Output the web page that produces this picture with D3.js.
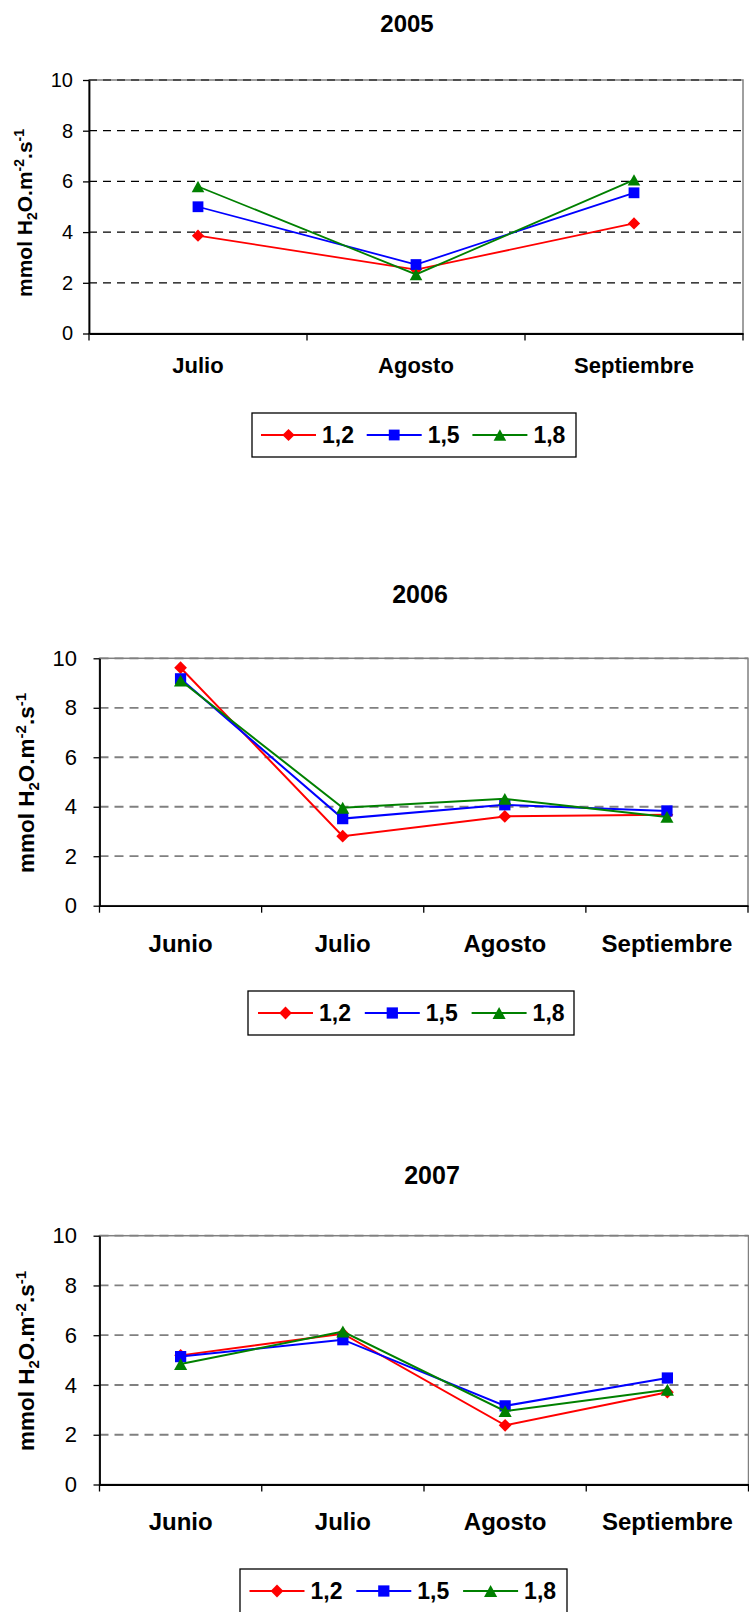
<!DOCTYPE html>
<html><head><meta charset="utf-8">
<script src="https://cdn.jsdelivr.net/npm/d3@7"></script>
<style>
body{margin:0;background:#fff}
svg{display:block}
text{font-family:"Liberation Sans",Arial,Helvetica,sans-serif;fill:#000}
</style>
</head><body>
<svg id="c" width="749" height="1612"></svg>
<script>
// ---- data ----
const seriesNames = ["1,2", "1,5", "1,8"];
const seriesColors = ["#FF0000", "#0000FF", "#008000"];
const seriesShapes = ["diamond", "square", "triangle"];
const yTickValues = [0, 2, 4, 6, 8, 10];
const titles = ["2005", "2006", "2007"];

const months2005 = ["Julio", "Agosto", "Septiembre"];
const months2006 = ["Junio", "Julio", "Agosto", "Septiembre"];
const months2007 = ["Junio", "Julio", "Agosto", "Septiembre"];

const v2005_12 = [3.86, 2.52, 4.34];
const v2005_15 = [5.00, 2.72, 5.55];
const v2005_18 = [5.80, 2.33, 6.06];

const v2006_12 = [9.62, 2.81, 3.61, 3.68];
const v2006_15 = [9.17, 3.52, 4.08, 3.83];
const v2006_18 = [9.10, 3.96, 4.32, 3.59];

const v2007_12 = [5.19, 6.06, 2.38, 3.71];
const v2007_15 = [5.14, 5.82, 3.16, 4.28];
const v2007_18 = [4.84, 6.15, 2.95, 3.81];

// ---- layout ----
const charts = [
  { title: titles[0], months: months2005, values: [v2005_12, v2005_15, v2005_18],
    L: 89, R: 743, T: 80, B: 333.5, titleX: 407, titleY: 32, titleSize: 24,
    catY: 373, catSize: 22, tickSize: 20, tickRight: 73,
    yTitleX: 32, yTitleY: 213, yTitleSize: 21,
    gridColor: "#000", gridW: 1.2, dash: "8,6", lineW: 1.8, mk: 12,
    leg: { x: 252, y: 413, w: 324, h: 44, start: 261, step: 105.7 } },
  { title: titles[1], months: months2006, values: [v2006_12, v2006_15, v2006_18],
    L: 99.5, R: 748, T: 658.3, B: 905.7, titleX: 420, titleY: 603, titleSize: 25,
    catY: 952, catSize: 24, tickSize: 22, tickRight: 77,
    yTitleX: 34, yTitleY: 783, yTitleSize: 22.5,
    gridColor: "#808080", gridW: 1.8, dash: "9,6", lineW: 2, mk: 12.5,
    leg: { x: 248, y: 991, w: 326, h: 44, start: 258, step: 106.8 } },
  { title: titles[2], months: months2007, values: [v2007_12, v2007_15, v2007_18],
    L: 99.5, R: 748.5, T: 1235.7, B: 1484.5, titleX: 432, titleY: 1184, titleSize: 25,
    catY: 1530, catSize: 24, tickSize: 22, tickRight: 77,
    yTitleX: 34, yTitleY: 1361, yTitleSize: 22.5,
    gridColor: "#808080", gridW: 1.8, dash: "9,6", lineW: 2, mk: 12.5,
    leg: { x: 240, y: 1569, w: 327, h: 44, start: 249.5, step: 106.8 } }
];

const svg = d3.select("#c");

function marker(g, shape, cx, cy, s, color) {
  if (shape === "diamond") {
    const side = s / Math.SQRT2 * 1.02;
    g.append("path")
      .attr("d", d3.symbol().type(d3.symbolSquare).size(side * side)())
      .attr("transform", `translate(${cx},${cy}) rotate(45)`)
      .attr("fill", color);
  } else if (shape === "square") {
    const side = s * 0.9;
    g.append("path")
      .attr("d", d3.symbol().type(d3.symbolSquare).size(side * side)())
      .attr("transform", `translate(${cx},${cy})`)
      .attr("fill", color);
  } else {
    const h = s * 0.95, w = s * 1.05;
    g.append("path")
      .attr("d", `M${cx},${cy - h / 2}L${cx + w / 2},${cy + h / 2}L${cx - w / 2},${cy + h / 2}Z`)
      .attr("fill", color);
  }
}

charts.forEach(c => {
  const g = svg.append("g");
  const x = d3.scaleBand().domain(c.months).range([c.L, c.R]).paddingInner(0).paddingOuter(0);
  const y = d3.scaleLinear().domain([0, 10]).range([c.B, c.T]);
  const bw = x.bandwidth();

  // title
  g.append("text").attr("x", c.titleX).attr("y", c.titleY)
    .attr("text-anchor", "middle").attr("font-weight", "bold")
    .attr("font-size", c.titleSize).text(c.title);

  // plot border
  g.append("rect").attr("x", c.L).attr("y", c.T)
    .attr("width", c.R - c.L).attr("height", c.B - c.T)
    .attr("fill", "none").attr("stroke", "#808080").attr("stroke-width", 1.5);

  // gridlines
  g.append("g").selectAll("line").data(yTickValues.filter(v => v > 0)).join("line")
    .attr("x1", c.L).attr("x2", c.R)
    .attr("y1", d => y(d)).attr("y2", d => y(d))
    .attr("stroke", c.gridColor).attr("stroke-width", c.gridW)
    .attr("stroke-dasharray", c.dash);

  // y axis
  const ya = g.append("g").attr("transform", `translate(${c.L},0)`)
    .call(d3.axisLeft(y).tickValues(yTickValues).tickSize(6).tickSizeOuter(0)
      .tickPadding(c.L - c.tickRight - 6));
  ya.select(".domain").attr("stroke", "#000").attr("stroke-width", 1.8);
  ya.selectAll(".tick line").attr("stroke", "#000").attr("stroke-width", 1.3);
  ya.selectAll(".tick text").attr("font-size", c.tickSize)
    .attr("font-family", "'Liberation Sans',Arial,sans-serif").attr("fill", "#000");

  // x axis
  const xa = g.append("g").attr("transform", `translate(0,${c.B})`)
    .call(d3.axisBottom(x).tickSize(0).tickFormat(""));
  xa.select(".domain").attr("stroke", "#000").attr("stroke-width", 1.8);
  xa.selectAll(".tick").remove();
  const bounds = c.months.map(m => x(m)).concat([c.R]);
  g.append("g").selectAll("line").data(bounds).join("line")
    .attr("x1", d => d).attr("x2", d => d)
    .attr("y1", c.B).attr("y2", c.B + 7)
    .attr("stroke", "#000").attr("stroke-width", 1.3);
  g.append("g").selectAll("text").data(c.months).join("text")
    .attr("x", d => x(d) + bw / 2).attr("y", c.catY)
    .attr("text-anchor", "middle").attr("font-weight", "bold")
    .attr("font-size", c.catSize).text(d => d);

  // y title
  const yt = g.append("text")
    .attr("transform", `translate(${c.yTitleX},${c.yTitleY}) rotate(-90)`)
    .attr("text-anchor", "middle").attr("font-weight", "bold")
    .attr("font-size", c.yTitleSize);
  const small = Math.round(c.yTitleSize * 0.66);
  yt.append("tspan").text("mmol H");
  yt.append("tspan").attr("font-size", small).attr("dy", 5).text("2");
  yt.append("tspan").attr("dy", -5).text("O.m");
  yt.append("tspan").attr("font-size", small).attr("dy", -8).text("-2");
  yt.append("tspan").attr("dy", 8).text(".s");
  yt.append("tspan").attr("font-size", small).attr("dy", -8).text("-1");

  // series
  const line = d3.line().x((d, i) => x(c.months[i]) + bw / 2).y(d => y(d));
  c.values.forEach((vals, si) => {
    const sg = g.append("g");
    sg.append("path").attr("d", line(vals)).attr("fill", "none")
      .attr("stroke", seriesColors[si]).attr("stroke-width", c.lineW);
    vals.forEach((v, i) => marker(sg, seriesShapes[si], x(c.months[i]) + bw / 2, y(v), c.mk, seriesColors[si]));
  });

  // legend
  const lg = g.append("g");
  lg.append("rect").attr("x", c.leg.x).attr("y", c.leg.y)
    .attr("width", c.leg.w).attr("height", c.leg.h)
    .attr("fill", "#fff").attr("stroke", "#000").attr("stroke-width", 1.3);
  const ly = c.leg.y + c.leg.h / 2;
  seriesNames.forEach((name, si) => {
    const x0 = c.leg.start + si * c.leg.step;
    lg.append("line").attr("x1", x0).attr("x2", x0 + 55).attr("y1", ly).attr("y2", ly)
      .attr("stroke", seriesColors[si]).attr("stroke-width", c.lineW);
    marker(lg, seriesShapes[si], x0 + 27.5, ly, c.mk, seriesColors[si]);
    lg.append("text").attr("x", x0 + 61).attr("y", ly + 8)
      .attr("font-weight", "bold").attr("font-size", 23).text(name);
  });
});
</script>
</body></html>
